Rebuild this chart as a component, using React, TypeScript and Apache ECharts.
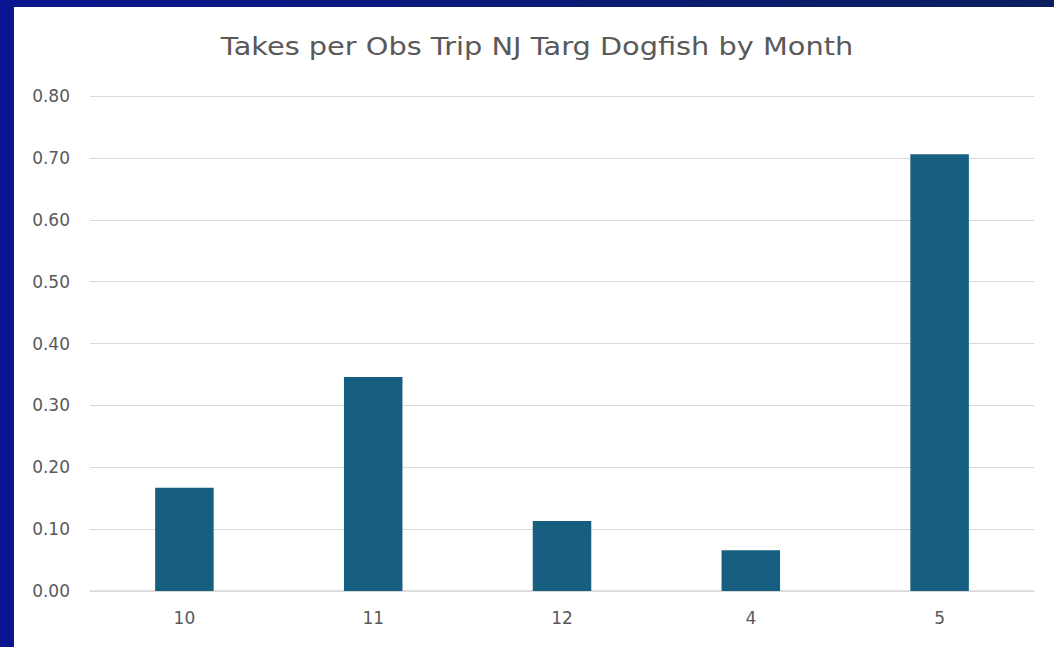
import React, { useEffect, useRef } from "react";
import * as echarts from "echarts";

const months = ["10", "11", "12", "4", "5"];
const takesPerTrip = [0.167, 0.346, 0.113, 0.066, 0.706];
const chartTitle = "Takes per Obs Trip NJ Targ Dogfish by Month";

export default function App() {
  const ref = useRef<HTMLDivElement>(null);
  useEffect(() => {
    if (!ref.current) return;
    const chart = echarts.init(ref.current, undefined, { renderer: "svg" });
    chart.setOption({
      animation: false,
      backgroundColor: "#ffffff",
      graphic: [
        { type: "rect", shape: { x: 0, y: 0, width: 14, height: 647 }, style: { fill: "#0A1690" }, z: 100 },
        {
          type: "rect",
          shape: { x: 0, y: 0, width: 1054, height: 7 },
          style: {
            fill: new echarts.graphic.LinearGradient(0, 0, 1, 0, [
              { offset: 0, color: "#0A1690" },
              { offset: 1, color: "#0A1F5E" },
            ]),
          },
          z: 100,
        },
        {
          type: "text",
          x: 537,
          y: 46,
          scaleX: 1.2,
          style: {
            text: chartTitle,
            x: 0,
            y: 0,
            align: "center",
            verticalAlign: "middle",
            fontFamily: "DejaVu Sans",
            fontSize: 24,
            fill: "#595959",
          },
        },
      ],
      grid: { left: 90, right: 20, top: 96, bottom: 56, containLabel: false },
      xAxis: {
        type: "category",
        data: months,
        axisLine: { lineStyle: { color: "#D9D9D9", width: 1.5 } },
        axisTick: { show: false },
        axisLabel: { color: "#595959", fontSize: 17, fontFamily: "DejaVu Sans", margin: 18 },
      },
      yAxis: {
        type: "value",
        min: 0,
        max: 0.8,
        interval: 0.1,
        axisLine: { show: false },
        axisTick: { show: false },
        splitLine: { lineStyle: { color: "#D9D9D9", width: 1.2 } },
        axisLabel: {
          color: "#595959",
          fontSize: 17,
          fontFamily: "DejaVu Sans",
          margin: 20,
          formatter: (v: number) => v.toFixed(2),
        },
      },
      series: [
        {
          type: "bar",
          data: takesPerTrip,
          barWidth: "31%",
          itemStyle: { color: "#175F80" },
        },
      ],
    });
    return () => chart.dispose();
  }, []);
  return (
    <div
      ref={ref}
      style={{ position: "fixed", left: 0, top: 0, width: 1054, height: 647 }}
    />
  );
}
